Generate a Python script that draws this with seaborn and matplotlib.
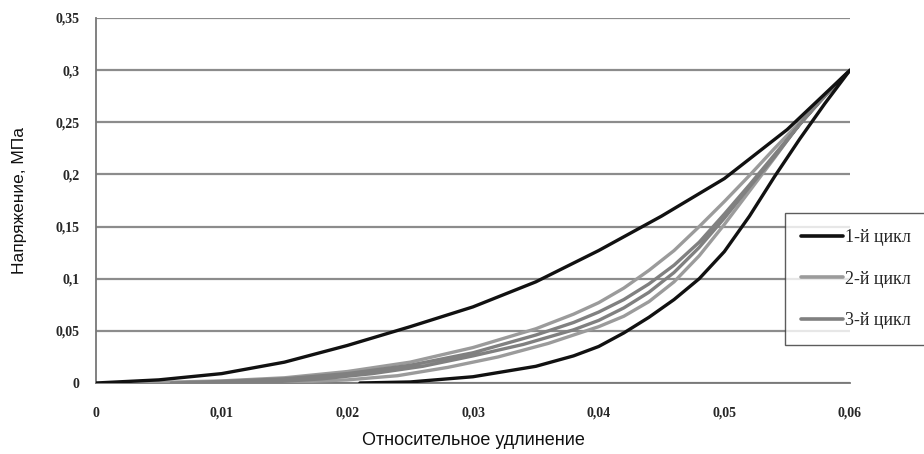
import matplotlib
matplotlib.use("Agg")
import matplotlib.pyplot as plt
import seaborn as sns
import pandas as pd

# ---- data ----
c1_load_x = [0, 0.005, 0.01, 0.015, 0.02, 0.025, 0.03, 0.035, 0.04, 0.045, 0.05, 0.055, 0.06]
c1_load_y = [0, 0.003, 0.009, 0.02, 0.036, 0.054, 0.073, 0.097, 0.127, 0.16, 0.196, 0.243, 0.3]
c1_unload_x = [0.06, 0.058, 0.056, 0.054, 0.052, 0.05, 0.048, 0.046, 0.044, 0.042, 0.04, 0.038, 0.035, 0.03, 0.025, 0.021]
c1_unload_y = [0.3, 0.268, 0.234, 0.198, 0.16, 0.126, 0.1, 0.08, 0.063, 0.048, 0.035, 0.026, 0.016, 0.006, 0.001, 0]

c2_load_x = [0.003, 0.01, 0.015, 0.02, 0.025, 0.03, 0.035, 0.038, 0.04, 0.042, 0.044, 0.046, 0.048, 0.05, 0.052, 0.054, 0.056, 0.058, 0.06]
c2_load_y = [0, 0.002, 0.005, 0.011, 0.02, 0.034, 0.052, 0.066, 0.077, 0.091, 0.108, 0.127, 0.15, 0.174, 0.199, 0.225, 0.25, 0.275, 0.3]
c2_unload_x = [0.06, 0.058, 0.056, 0.054, 0.052, 0.05, 0.048, 0.046, 0.044, 0.042, 0.04, 0.036, 0.032, 0.028, 0.024, 0.02, 0.016, 0.012]
c2_unload_y = [0.3, 0.276, 0.249, 0.216, 0.184, 0.152, 0.122, 0.097, 0.078, 0.064, 0.054, 0.038, 0.025, 0.015, 0.007, 0.003, 0.001, 0]

c3_load_x = [0.006, 0.01, 0.015, 0.02, 0.025, 0.03, 0.035, 0.038, 0.04, 0.042, 0.044, 0.046, 0.048, 0.05, 0.052, 0.054, 0.056, 0.058, 0.06]
c3_load_y = [0, 0.0015, 0.004, 0.009, 0.017, 0.029, 0.046, 0.058, 0.068, 0.08, 0.095, 0.113, 0.135, 0.162, 0.19, 0.219, 0.248, 0.275, 0.3]
c3_unload_x = [0.06, 0.058, 0.056, 0.054, 0.052, 0.05, 0.048, 0.046, 0.044, 0.042, 0.04, 0.038, 0.034, 0.03, 0.026, 0.022, 0.018, 0.014, 0.01]
c3_unload_y = [0.3, 0.276, 0.248, 0.217, 0.188, 0.158, 0.13, 0.106, 0.087, 0.072, 0.06, 0.051, 0.037, 0.026, 0.016, 0.009, 0.004, 0.001, 0]

series_names = ["1-й цикл", "2-й цикл", "3-й цикл"]
x_ticks = [0, 0.01, 0.02, 0.03, 0.04, 0.05, 0.06]
x_tick_labels = ["0", "0,01", "0,02", "0,03", "0,04", "0,05", "0,06"]
y_ticks = [0, 0.05, 0.1, 0.15, 0.2, 0.25, 0.3, 0.35]
y_tick_labels = ["0", "0,05", "0,1", "0,15", "0,2", "0,25", "0,3", "0,35"]
x_label = "Относительное удлинение"
y_label = "Напряжение, МПа"

# ---- build frames ----
cycles = [
    (c1_load_x + c1_unload_x, c1_load_y + c1_unload_y),
    (c2_load_x + c2_unload_x, c2_load_y + c2_unload_y),
    (c3_load_x + c3_unload_x, c3_load_y + c3_unload_y),
]
frames = []
for name, (xs, ys) in zip(series_names, cycles):
    frames.append(pd.DataFrame({"x": xs, "y": ys, "cycle": name}))

colors = {"1-й цикл": "#111111", "2-й цикл": "#9b9b9b", "3-й цикл": "#808080"}
zorders = {"1-й цикл": 5, "2-й цикл": 3, "3-й цикл": 4}

sns.set_style("white")
plt.rcParams["font.family"] = ["Liberation Sans", "DejaVu Sans"]

fig = plt.figure(figsize=(9.24, 4.54), dpi=100)
ax = fig.add_axes([96 / 924, 1 - 383 / 454, 754 / 924, 365 / 454])

for df in frames:
    name = df["cycle"].iloc[0]
    sns.lineplot(data=df, x="x", y="y", sort=False, estimator=None, ax=ax,
                 color=colors[name], linewidth=2.4, label=name, zorder=zorders[name])

ax.set_xlim(0, 0.06)
ax.set_ylim(0, 0.35)
ax.set_xticks(x_ticks)
ax.set_xticklabels(x_tick_labels, family="Liberation Serif", fontweight="bold", fontsize=10)
ax.set_yticks(y_ticks)
ax.set_yticklabels(y_tick_labels, family="Liberation Serif", fontweight="bold", fontsize=10)
ax.tick_params(axis="both", direction="out", length=5, width=1.2, color="#777777")
ax.tick_params(axis="x", pad=12)
ax.tick_params(axis="y", pad=7)

ax.yaxis.grid(True, color="#8c8c8c", linewidth=1.6, zorder=0)
ax.xaxis.grid(False)
ax.set_axisbelow(True)
for s in ["top", "right"]:
    ax.spines[s].set_visible(False)
for s in ["left", "bottom"]:
    ax.spines[s].set_color("#777777")
    ax.spines[s].set_linewidth(1.3)

ax.set_xlabel(x_label, fontsize=13, labelpad=9, color="#111111")
ax.set_ylabel(y_label, fontsize=12.5, labelpad=20, color="#111111")

leg = ax.legend(loc="upper left", bbox_to_anchor=((785 - 96) / 754, (383 - 213) / 365),
                prop={"family": "Liberation Serif", "size": 13}, frameon=True,
                fancybox=False, edgecolor="#333333", handlelength=2.3,
                handletextpad=0.15, labelspacing=1.35, borderpad=0.9,
                borderaxespad=0)
leg.get_frame().set_linewidth(1.0)
leg.set_zorder(10)
for line in leg.get_lines():
    line.set_linewidth(2.6)

fig.savefig("out.png", dpi=100)
